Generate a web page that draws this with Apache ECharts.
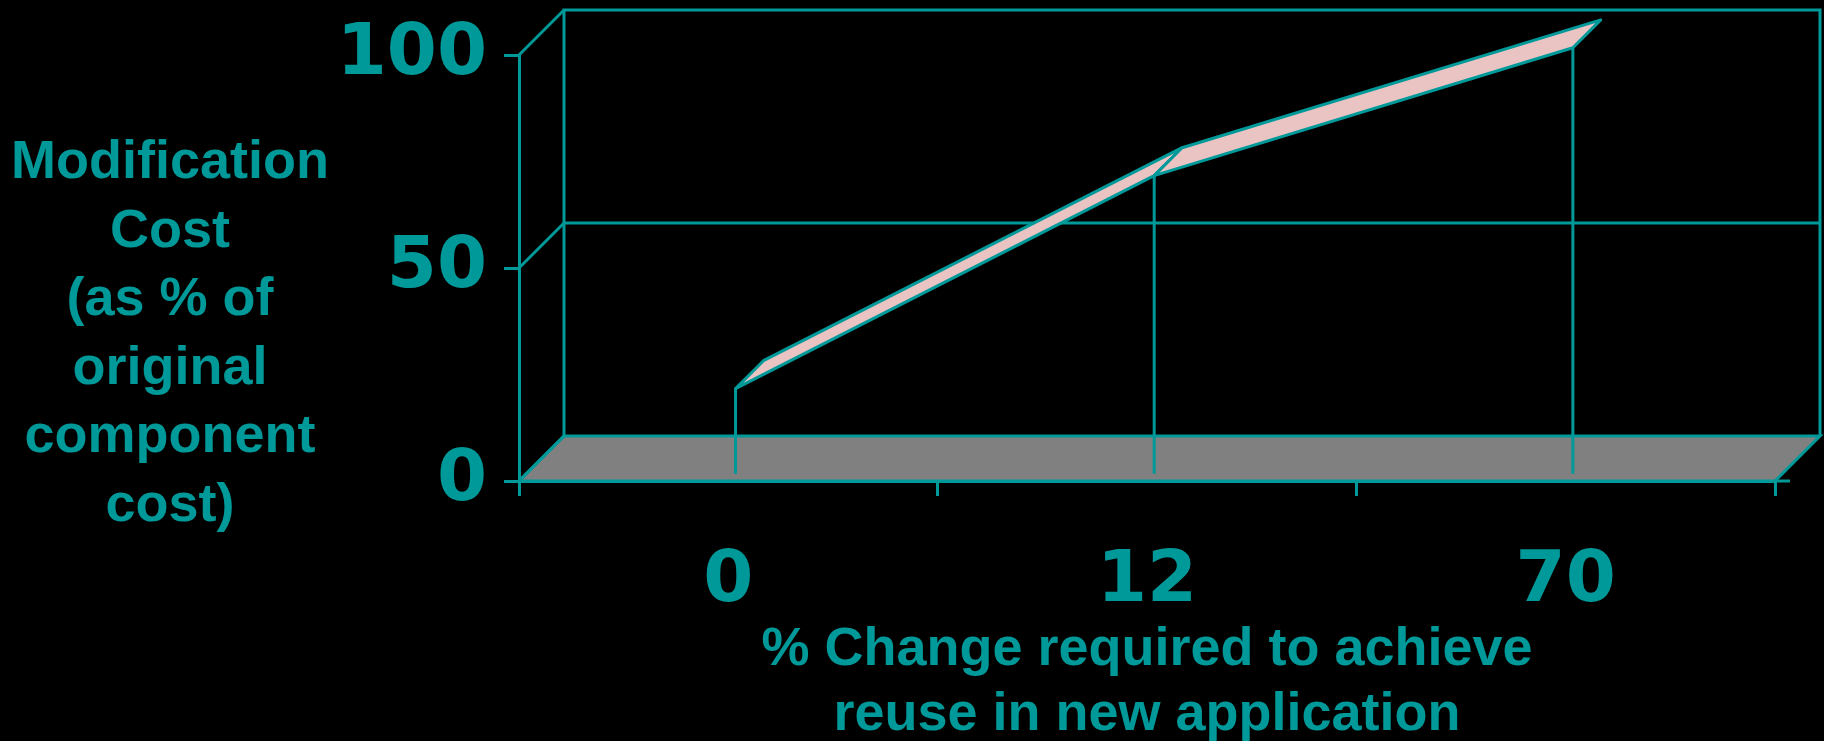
<!DOCTYPE html>
<html>
<head>
<meta charset="utf-8">
<script src="https://cdn.jsdelivr.net/npm/echarts@6/dist/echarts.min.js"></script>
<style>
html,body{margin:0;padding:0;background:#000;}
#c{width:1824px;height:741px;}
</style>
</head>
<body>
<div id="c"></div>
<script>
// ---- data ----
const categories = ['0', '12', '70'];
const costValues = [20, 70, 100];
const yTickValues = [0, 50, 100];
const yAxisTitle = 'Modification\nCost\n(as % of\noriginal\ncomponent\ncost)';
const xAxisTitle = '% Change required to achieve\nreuse in new application';

// ---- style ----
const TEAL = '#009999';
const PINK = '#EAC3C3';
const FLOOR = '#808080';
const LW = 3;
const DX = 45, DY = -45;      // 3D depth offset
const F1 = 0.16, F2 = 0.78;   // ribbon front/back depth fraction

function wallItem(params, api) {
  const n = categories.length;
  const band = api.size([1, 0])[0];
  const left = api.coord([0, 0])[0] - band / 2;
  const right = api.coord([n - 1, 0])[0] + band / 2;
  const vMin = yTickValues[0], vMax = yTickValues[yTickValues.length - 1];
  const y0 = api.coord([0, vMin])[1];
  const yTop = api.coord([0, vMax])[1];
  const ls = { stroke: TEAL, lineWidth: LW, fill: null };
  const children = [];
  children.push({ type: 'polygon', shape: { points: [[left, y0], [right, y0], [right + DX, y0 + DY], [left + DX, y0 + DY]] },
    style: { fill: FLOOR, stroke: TEAL, lineWidth: LW } });
  children.push({ type: 'polyline', shape: { points: [[left + DX, y0 + DY], [left + DX, yTop + DY], [right + DX, yTop + DY], [right + DX, y0 + DY]] }, style: ls });
  yTickValues.forEach(v => {
    const y = api.coord([0, v])[1];
    children.push({ type: 'line', shape: { x1: left, y1: y, x2: left + DX, y2: y + DY }, style: ls });
    if (v !== vMin && v !== vMax) {
      children.push({ type: 'line', shape: { x1: left + DX, y1: y + DY, x2: right + DX, y2: y + DY }, style: ls });
    }
  });
  children.push({ type: 'line', shape: { x1: right, y1: y0, x2: right + 15, y2: y0 }, style: ls });
  return { type: 'group', children };
}

function ribbonItem(params, api) {
  const i = params.dataIndex;
  const n = costValues.length;
  const p = api.coord([api.value(0), api.value(1)]);
  const base = api.coord([api.value(0), 0]);
  const front = [p[0] + F1 * DX, p[1] + F1 * DY];
  const children = [];
  children.push({ type: 'line', z2: 1, shape: { x1: front[0], y1: front[1], x2: front[0], y2: base[1] + F1 * DY },
    style: { stroke: TEAL, lineWidth: LW } });
  if (i < n - 1) {
    const q = api.coord([i + 1, costValues[i + 1]]);
    const pts = [
      [p[0] + F1 * DX, p[1] + F1 * DY],
      [q[0] + F1 * DX, q[1] + F1 * DY],
      [q[0] + F2 * DX, q[1] + F2 * DY],
      [p[0] + F2 * DX, p[1] + F2 * DY]
    ];
    children.push({ type: 'polygon', z2: 2 + i, shape: { points: pts },
      style: { fill: PINK, stroke: TEAL, lineWidth: LW, lineJoin: 'round' } });
  }
  return { type: 'group', children };
}

const chart = echarts.init(document.getElementById('c'), null, { renderer: 'canvas' });
chart.setOption({
  backgroundColor: '#000',
  animation: false,
  title: {
    text: yAxisTitle,
    left: 170,
    top: 129,
    padding: 0,
    textAlign: 'center',
    textVerticalAlign: 'top',
    textStyle: { color: TEAL, fontSize: 54, fontWeight: 'bold', fontFamily: 'Liberation Sans', lineHeight: 68.5, align: 'center' }
  },
  grid: { left: 519, right: 49, top: 55, bottom: 260, containLabel: false, outerBoundsMode: 'none' },
  xAxis: {
    type: 'category',
    data: categories,
    boundaryGap: true,
    axisLine: { show: true, lineStyle: { color: TEAL, width: LW } },
    axisTick: { show: true, length: 15, lineStyle: { color: TEAL, width: LW } },
    splitLine: { show: false },
    axisLabel: { color: TEAL, fontSize: 72, fontWeight: 'bold', fontFamily: 'DejaVu Sans', lineHeight: 56, margin: 73 },
    name: xAxisTitle,
    nameLocation: 'middle',
    nameGap: 202,
    nameMoveOverlap: false,
    nameTextStyle: { color: TEAL, fontSize: 54, fontWeight: 'bold', fontFamily: 'Liberation Sans', lineHeight: 65, align: 'center', verticalAlign: 'middle' }
  },
  yAxis: {
    type: 'value',
    min: 0, max: 100, interval: 50,
    axisLine: { show: true, lineStyle: { color: TEAL, width: LW } },
    axisTick: { show: true, length: 15, lineStyle: { color: TEAL, width: LW } },
    splitLine: { show: false },
    axisLabel: { color: TEAL, fontSize: 72, fontWeight: 'bold', fontFamily: 'DejaVu Sans', lineHeight: 72, margin: 32, padding: [8, 0, 0, 0] }
  },
  series: [
    { type: 'custom', name: 'wall', renderItem: wallItem, data: [[0, 0]], z: 1, silent: true },
    { type: 'custom', name: 'Modification Cost', renderItem: ribbonItem, data: costValues.map((v, i) => [i, v]), z: 3, silent: true }
  ]
});
</script>
</body>
</html>
